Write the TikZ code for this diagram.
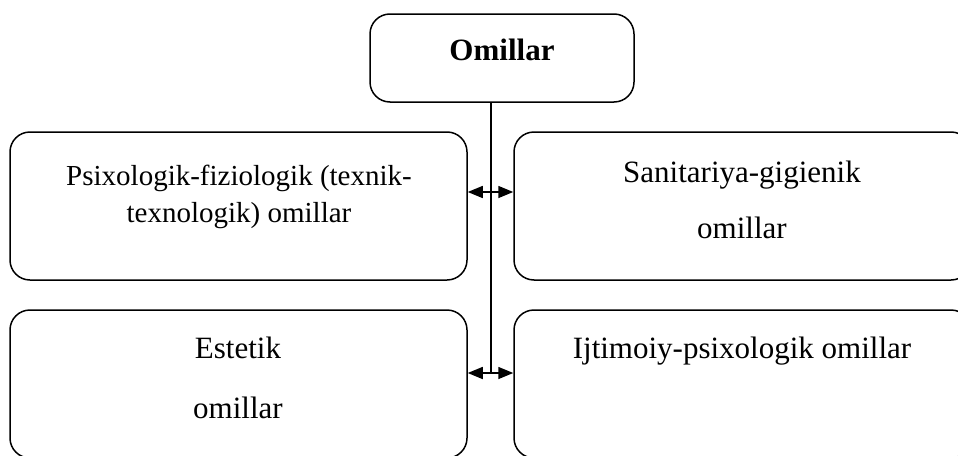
\documentclass[tikz,border=0pt]{standalone}
\usepackage{fontspec}
\setmainfont{Liberation Serif}
\usetikzlibrary{arrows.meta}
\begin{document}
\begin{tikzpicture}[x=1pt, y=-1pt, every node/.style={inner sep=0pt, font=\fontsize{31}{38}\selectfont},
		box/.style={draw, rounded corners=20pt, line width=1.5pt, minimum width=457pt, minimum height=148pt},
		link/.style={{Triangle[length=15pt,width=12pt]}-{Triangle[length=15pt,width=12pt]}, line width=1.5pt}]
		\useasboundingbox (0,0) rectangle (958,455);
		% boxes
		\node[box, minimum width=264pt, minimum height=88pt] (top) at (502,58) {};
		\node[box] (psy) at (238.5,206) {};
		\node[box] (san) at (742.5,206) {};
		\node[box] (est) at (238.5,384) {};
		\node[box] (ijt) at (742.5,384) {};
		% texts
		\node[anchor=base] (topT) at (502,60) {\textbf{Omillar}};
		\node[anchor=base, font=\fontsize{29}{36}\selectfont] (psyA) at (239,185) {Psixologik-fiziologik (texnik-};
		\node[anchor=base, font=\fontsize{29}{36}\selectfont] (psyB) at (239,222) {texnologik) omillar};
		\node[anchor=base] (sanA) at (742,182) {Sanitariya-gigienik};
		\node[anchor=base] (sanB) at (742,238) {omillar};
		\node[anchor=base] (estA) at (238,358) {Estetik};
		\node[anchor=base] (estB) at (238,418) {omillar};
		\node[anchor=base] (ijtA) at (742,358) {Ijtimoiy-psixologik omillar};
		% links
		\coordinate (trunk) at (491,373);
		\draw[line width=1.5pt] (top.south -| trunk) -- (trunk);
		\draw[link] ([yshift=14pt]psy.east) -- ([yshift=14pt]san.west);
		\draw[link] ([yshift=11pt]est.east) -- ([yshift=11pt]ijt.west);
	\end{tikzpicture}
\end{document}
